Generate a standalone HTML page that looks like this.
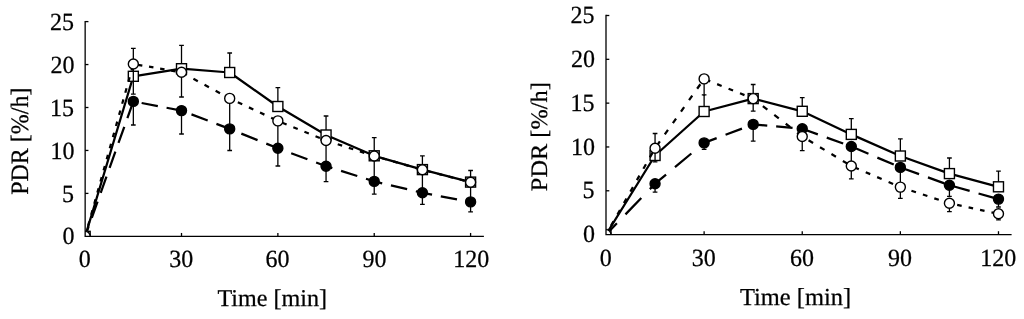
<!DOCTYPE html>
<html><head><meta charset="utf-8"><title>PDR</title>
<style>
html,body{margin:0;padding:0;background:#fff;}
body{width:1024px;height:319px;overflow:hidden;}
svg{display:block;}
</style></head><body>
<svg width="1024" height="319" viewBox="0 0 1024 319">
<rect width="1024" height="319" fill="#fff"/>
<clipPath id="clip1"><rect x="85.15" y="0" width="1024" height="236.35"/></clipPath>
<g stroke="#000" stroke-width="1.3" fill="none">
<path d="M133.33 76.30 V48.30 M130.98 48.30 h4.7"/>
<path d="M181.51 68.70 V45.30 M179.16 45.30 h4.7"/>
<path d="M229.69 72.50 V53.00 M227.34 53.00 h4.7"/>
<path d="M277.87 106.50 V87.70 M275.52 87.70 h4.7"/>
<path d="M326.05 135.00 V116.00 M323.70 116.00 h4.7"/>
<path d="M374.23 155.80 V137.60 M371.88 137.60 h4.7"/>
<path d="M422.41 169.60 V155.80 M420.06 155.80 h4.7"/>
<path d="M470.59 182.10 V170.50 M468.24 170.50 h4.7"/>
</g>
<path d="M85.15 236.35 L133.33 76.30 L181.51 68.70 L229.69 72.50 L277.87 106.50 L326.05 135.00 L374.23 155.80 L422.41 169.60 L470.59 182.10" stroke-width="2.25" fill="none" stroke="#000" stroke-linejoin="round" clip-path="url(#clip1)"/>
<g stroke="#000" stroke-width="1.4" fill="#fff">
<rect x="80.15" y="231.35" width="10.0" height="10.0" clip-path="url(#clip1)"/>
<rect x="128.33" y="71.30" width="10.0" height="10.0"/>
<rect x="176.51" y="63.70" width="10.0" height="10.0"/>
<rect x="224.69" y="67.50" width="10.0" height="10.0"/>
<rect x="272.87" y="101.50" width="10.0" height="10.0"/>
<rect x="321.05" y="130.00" width="10.0" height="10.0"/>
<rect x="369.23" y="150.80" width="10.0" height="10.0"/>
<rect x="417.41" y="164.60" width="10.0" height="10.0"/>
<rect x="465.59" y="177.10" width="10.0" height="10.0"/>
</g>
<g stroke="#000" stroke-width="1.3" fill="none">
<path d="M133.33 101.40 V125.00 M130.98 125.00 h4.7"/>
<path d="M181.51 110.60 V134.00 M179.16 134.00 h4.7"/>
<path d="M229.69 128.90 V150.50 M227.34 150.50 h4.7"/>
<path d="M277.87 148.30 V166.00 M275.52 166.00 h4.7"/>
<path d="M326.05 166.20 V181.60 M323.70 181.60 h4.7"/>
<path d="M374.23 181.40 V194.10 M371.88 194.10 h4.7"/>
<path d="M422.41 192.80 V204.40 M420.06 204.40 h4.7"/>
<path d="M470.59 201.90 V211.80 M468.24 211.80 h4.7"/>
</g>
<path d="M85.15 236.35L88.67 226.48 M91.79 217.75L97.57 201.55 M100.69 192.82L106.47 176.62 M109.59 167.89L115.38 151.69 M118.49 142.96L124.28 126.76 M127.39 118.03L133.18 101.83 M141.63 102.98L157.83 106.08 M166.56 107.75L181.51 110.60 M181.51 110.60L182.76 111.07 M191.49 114.39L207.69 120.54 M216.42 123.86L229.69 128.90 M229.69 128.90L232.62 130.08 M241.35 133.59L257.55 140.12 M266.28 143.63L277.87 148.30 M277.87 148.30L282.48 150.01 M291.21 153.26L307.41 159.27 M316.14 162.52L326.05 166.20 M326.05 166.20L332.34 168.18 M341.07 170.94L357.27 176.05 M366.00 178.80L374.23 181.40 M374.23 181.40L382.20 183.29 M390.93 185.35L407.13 189.18 M415.86 191.25L422.41 192.80 M422.41 192.80L432.06 194.62 M440.79 196.27L456.99 199.33 M465.72 200.98L470.59 201.90" stroke-width="2.25" fill="none" stroke="#000" stroke-linecap="butt" clip-path="url(#clip1)"/>
<g stroke="#000" stroke-width="1.4" fill="#000">
<circle cx="133.33" cy="101.40" r="5.0"/>
<circle cx="181.51" cy="110.60" r="5.0"/>
<circle cx="229.69" cy="128.90" r="5.0"/>
<circle cx="277.87" cy="148.30" r="5.0"/>
<circle cx="326.05" cy="166.20" r="5.0"/>
<circle cx="374.23" cy="181.40" r="5.0"/>
<circle cx="422.41" cy="192.80" r="5.0"/>
<circle cx="470.59" cy="201.90" r="5.0"/>
</g>
<g stroke="#000" stroke-width="1.3" fill="none">
<path d="M133.33 64.00 V94.20 M130.98 94.20 h4.7"/>
<path d="M181.51 72.30 V97.00 M179.16 97.00 h4.7"/>
<path d="M229.69 98.40 V128.90"/>
<path d="M277.87 120.90 V148.30"/>
<path d="M326.05 140.50 V166.20"/>
<path d="M374.23 156.00 V181.40"/>
<path d="M422.41 169.80 V192.80"/>
<path d="M470.59 182.30 V201.90"/>
</g>
<path d="M85.15 236.35L86.20 232.60 M88.07 225.90L89.30 221.50 M91.17 214.80L92.40 210.40 M94.28 203.70L95.51 199.30 M97.38 192.60L98.61 188.20 M100.48 181.50L101.71 177.10 M103.59 170.40L104.82 166.00 M106.69 159.30L107.92 154.90 M109.79 148.20L111.02 143.80 M112.90 137.10L114.13 132.70 M116.00 126.00L117.23 121.60 M119.10 114.90L120.33 110.50 M122.20 103.80L123.43 99.40 M125.31 92.70L126.54 88.30 M128.41 81.60L129.64 77.20 M131.51 70.50L132.74 66.10 M137.93 64.79L142.33 65.55 M149.03 66.70L153.43 67.46 M160.13 68.62L164.53 69.37 M171.23 70.53L175.63 71.29 M182.33 72.74L186.73 75.13 M193.43 78.76L197.83 81.14 M204.53 84.77L208.93 87.15 M215.63 90.78L220.03 93.17 M226.73 96.80L229.69 98.40 M229.69 98.40L231.13 99.07 M237.83 102.20L242.23 104.26 M248.93 107.39L253.33 109.44 M260.03 112.57L264.43 114.62 M271.13 117.75L275.53 119.81 M282.23 122.67L286.63 124.46 M293.33 127.19L297.73 128.98 M304.43 131.70L308.83 133.49 M315.53 136.22L319.93 138.01 M326.63 140.69L331.03 142.10 M337.73 144.26L342.13 145.67 M348.83 147.83L353.23 149.24 M359.93 151.40L364.33 152.82 M371.03 154.97L374.23 156.00 M374.23 156.00L375.43 156.34 M382.13 158.26L386.53 159.52 M393.23 161.44L397.63 162.70 M404.33 164.62L408.73 165.88 M415.43 167.80L419.83 169.06 M426.53 170.87L430.93 172.01 M437.63 173.75L442.03 174.89 M448.73 176.63L453.13 177.77 M459.83 179.51L464.23 180.65" stroke-width="2.25" fill="none" stroke="#000" stroke-linecap="butt" clip-path="url(#clip1)"/>
<g stroke="#000" stroke-width="1.4" fill="#fff">
<circle cx="85.15" cy="236.35" r="5.0" clip-path="url(#clip1)"/>
<circle cx="133.33" cy="64.00" r="5.0"/>
<circle cx="181.51" cy="72.30" r="5.0"/>
<circle cx="229.69" cy="98.40" r="5.0"/>
<circle cx="277.87" cy="120.90" r="5.0"/>
<circle cx="326.05" cy="140.50" r="5.0"/>
<circle cx="374.23" cy="156.00" r="5.0"/>
<circle cx="422.41" cy="169.80" r="5.0"/>
<circle cx="470.59" cy="182.30" r="5.0"/>
</g>
<g stroke="#000" stroke-width="1.3" fill="none" stroke-linecap="butt">
<path d="M85.15 20.950000000000003 V236.35 H483.9"/>
<path d="M85.15 193.40 h3.3"/>
<path d="M85.15 150.45 h3.3"/>
<path d="M85.15 107.50 h3.3"/>
<path d="M85.15 64.55 h3.3"/>
<path d="M85.15 21.60 h3.3"/>
<path d="M181.51 236.35 v-3.4"/>
<path d="M277.87 236.35 v-3.4"/>
<path d="M374.23 236.35 v-3.4"/>
<path d="M470.59 236.35 v-3.4"/>
</g>
<g font-family="'Liberation Serif', serif" font-size="24px" fill="#000" stroke="#000" stroke-width="0.25" text-rendering="geometricPrecision">
<text transform="translate(74.40 244.45) scale(1 1.03)" text-anchor="end">0</text>
<text transform="translate(74.00 201.50) scale(1 1.03)" text-anchor="end">5</text>
<text transform="translate(74.40 158.55) scale(1 1.03)" text-anchor="end">10</text>
<text transform="translate(74.00 115.60) scale(1 1.03)" text-anchor="end">15</text>
<text transform="translate(74.40 72.65) scale(1 1.03)" text-anchor="end">20</text>
<text transform="translate(74.00 29.70) scale(1 1.03)" text-anchor="end">25</text>
<text transform="translate(84.85 266.80) scale(1 1.03)" text-anchor="middle">0</text>
<text transform="translate(181.21 266.80) scale(1 1.03)" text-anchor="middle">30</text>
<text transform="translate(277.57 266.80) scale(1 1.03)" text-anchor="middle">60</text>
<text transform="translate(374.53 266.80) scale(1 1.03)" text-anchor="middle">90</text>
<text transform="translate(471.29 266.80) scale(1 1.03)" text-anchor="middle">120</text>
<text transform="translate(272.20 305.85)" text-anchor="middle" font-size="24.1px">Time [min]</text>
<text transform="translate(27.50 141.20) rotate(-90) scale(1 1.04)" text-anchor="middle" font-size="24.0px">PDR [%/h]</text>
</g>
<clipPath id="clip2"><rect x="606.0" y="0" width="1024" height="234.6"/></clipPath>
<g stroke="#000" stroke-width="1.3" fill="none">
<path d="M655.06 155.50 V133.50 M652.71 133.50 h4.7"/>
<path d="M704.12 111.50 V94.90 M701.77 94.90 h4.7"/>
<path d="M753.18 98.60 V84.50 M750.83 84.50 h4.7"/>
<path d="M802.24 111.30 V97.60 M799.89 97.60 h4.7"/>
<path d="M851.30 134.40 V118.70 M848.95 118.70 h4.7"/>
<path d="M900.36 156.00 V138.90 M898.01 138.90 h4.7"/>
<path d="M949.42 173.60 V158.00 M947.07 158.00 h4.7"/>
<path d="M998.48 186.80 V171.20 M996.13 171.20 h4.7"/>
</g>
<path d="M606.00 234.60 L655.06 155.50 L704.12 111.50 L753.18 98.60 L802.24 111.30 L851.30 134.40 L900.36 156.00 L949.42 173.60 L998.48 186.80" stroke-width="2.25" fill="none" stroke="#000" stroke-linejoin="round" clip-path="url(#clip2)"/>
<g stroke="#000" stroke-width="1.4" fill="#fff">
<rect x="601.0" y="229.6" width="10.0" height="10.0" clip-path="url(#clip2)"/>
<rect x="650.06" y="150.50" width="10.0" height="10.0"/>
<rect x="699.12" y="106.50" width="10.0" height="10.0"/>
<rect x="748.18" y="93.60" width="10.0" height="10.0"/>
<rect x="797.24" y="106.30" width="10.0" height="10.0"/>
<rect x="846.30" y="129.40" width="10.0" height="10.0"/>
<rect x="895.36" y="151.00" width="10.0" height="10.0"/>
<rect x="944.42" y="168.60" width="10.0" height="10.0"/>
<rect x="993.48" y="181.80" width="10.0" height="10.0"/>
</g>
<g stroke="#000" stroke-width="1.3" fill="none">
<path d="M655.06 183.70 V192.10 M652.71 192.10 h4.7"/>
<path d="M704.12 142.90 V149.30 M701.77 149.30 h4.7"/>
<path d="M753.18 124.40 V141.20 M750.83 141.20 h4.7"/>
<path d="M802.24 128.70 V136.50"/>
<path d="M851.30 146.50 V166.00"/>
<path d="M900.36 167.40 V187.10"/>
<path d="M949.42 185.20 V196.40 M947.07 196.40 h4.7"/>
<path d="M998.48 199.10 V207.00 M996.13 207.00 h4.7"/>
</g>
<path d="M606.00 234.60L616.89 223.30 M625.47 214.40L641.28 198.00 M649.86 189.10L655.06 183.70 M655.06 183.70L666.06 174.55 M674.96 167.15L691.36 153.51 M700.26 146.11L704.12 142.90 M704.12 142.90L716.66 138.17 M725.56 134.82L741.96 128.63 M750.86 125.27L753.18 124.40 M753.18 124.40L767.26 125.63 M776.16 126.41L792.56 127.85 M801.46 128.63L802.24 128.70 M802.24 128.70L817.86 134.37 M826.76 137.60L843.16 143.55 M852.06 146.82L868.46 153.81 M877.36 157.60L893.76 164.59 M902.66 168.23L919.06 174.18 M927.96 177.41L944.36 183.36 M953.26 186.29L969.66 190.93 M978.56 193.46L994.96 198.10" stroke-width="2.25" fill="none" stroke="#000" stroke-linecap="butt" clip-path="url(#clip2)"/>
<g stroke="#000" stroke-width="1.4" fill="#000">
<circle cx="655.06" cy="183.70" r="5.0"/>
<circle cx="704.12" cy="142.90" r="5.0"/>
<circle cx="753.18" cy="124.40" r="5.0"/>
<circle cx="802.24" cy="128.70" r="5.0"/>
<circle cx="851.30" cy="146.50" r="5.0"/>
<circle cx="900.36" cy="167.40" r="5.0"/>
<circle cx="949.42" cy="185.20" r="5.0"/>
<circle cx="998.48" cy="199.10" r="5.0"/>
</g>
<g stroke="#000" stroke-width="1.3" fill="none">
<path d="M655.06 148.20 V161.80 M652.71 161.80 h4.7"/>
<path d="M704.12 78.90 V96.00"/>
<path d="M753.18 98.60 V111.20 M750.83 111.20 h4.7"/>
<path d="M802.24 136.50 V150.60 M799.89 150.60 h4.7"/>
<path d="M851.30 166.00 V178.90 M848.95 178.90 h4.7"/>
<path d="M900.36 187.10 V198.40 M898.01 198.40 h4.7"/>
<path d="M949.42 203.30 V211.60 M947.07 211.60 h4.7"/>
<path d="M998.48 213.80 V219.90 M996.13 219.90 h4.7"/>
</g>
<path d="M606.00 234.60L607.01 232.83 M610.94 225.90L613.50 221.40 M617.43 214.47L619.99 209.97 M623.92 203.04L626.48 198.54 M630.41 191.61L632.97 187.11 M636.90 180.18L639.46 175.68 M643.39 168.75L645.95 164.25 M649.88 157.32L652.44 152.82 M656.70 145.89L659.88 141.39 M664.79 134.46L667.97 129.96 M672.88 123.03L676.06 118.53 M680.97 111.60L684.16 107.10 M689.06 100.17L692.25 95.67 M697.15 88.74L700.34 84.24 M705.71 79.54L710.21 81.35 M717.14 84.13L721.64 85.94 M728.57 88.72L733.07 90.52 M740.00 93.31L744.50 95.11 M751.43 97.90L753.18 98.60 M753.18 98.60L755.93 100.72 M762.86 106.08L767.36 109.55 M774.29 114.91L778.79 118.38 M785.72 123.74L790.22 127.21 M797.15 132.57L801.65 136.04 M808.58 140.31L813.08 143.02 M820.01 147.19L824.51 149.89 M831.44 154.06L835.94 156.76 M842.87 160.93L847.37 163.64 M854.30 167.29L858.80 169.23 M865.73 172.21L870.23 174.14 M877.16 177.12L881.66 179.06 M888.59 182.04L893.09 183.97 M900.02 186.95L900.36 187.10 M900.36 187.10L904.52 188.47 M911.45 190.76L915.95 192.25 M922.88 194.54L927.38 196.02 M934.31 198.31L938.81 199.80 M945.74 202.08L949.42 203.30 M949.42 203.30L950.24 203.48 M957.17 204.96L961.67 205.92 M968.60 207.40L973.10 208.37 M980.03 209.85L984.53 210.81 M991.46 212.30L995.96 213.26" stroke-width="2.25" fill="none" stroke="#000" stroke-linecap="butt" clip-path="url(#clip2)"/>
<g stroke="#000" stroke-width="1.4" fill="#fff">
<circle cx="606.0" cy="234.6" r="5.0" clip-path="url(#clip2)"/>
<circle cx="655.06" cy="148.20" r="5.0"/>
<circle cx="704.12" cy="78.90" r="5.0"/>
<circle cx="753.18" cy="98.60" r="5.0"/>
<circle cx="802.24" cy="136.50" r="5.0"/>
<circle cx="851.30" cy="166.00" r="5.0"/>
<circle cx="900.36" cy="187.10" r="5.0"/>
<circle cx="949.42" cy="203.30" r="5.0"/>
<circle cx="998.48" cy="213.80" r="5.0"/>
</g>
<g stroke="#000" stroke-width="1.3" fill="none" stroke-linecap="butt">
<path d="M606.0 14.85 V234.6 H1011.6"/>
<path d="M606.0 190.78 h3.3"/>
<path d="M606.0 146.96 h3.3"/>
<path d="M606.0 103.14 h3.3"/>
<path d="M606.0 59.32 h3.3"/>
<path d="M606.0 15.50 h3.3"/>
<path d="M704.12 234.6 v-3.4"/>
<path d="M802.24 234.6 v-3.4"/>
<path d="M900.36 234.6 v-3.4"/>
<path d="M998.48 234.6 v-3.4"/>
</g>
<g font-family="'Liberation Serif', serif" font-size="24px" fill="#000" stroke="#000" stroke-width="0.25" text-rendering="geometricPrecision">
<text transform="translate(595.00 242.30) scale(1 1.03)" text-anchor="end">0</text>
<text transform="translate(594.60 198.48) scale(1 1.03)" text-anchor="end">5</text>
<text transform="translate(595.00 154.66) scale(1 1.03)" text-anchor="end">10</text>
<text transform="translate(594.60 110.84) scale(1 1.03)" text-anchor="end">15</text>
<text transform="translate(595.00 67.02) scale(1 1.03)" text-anchor="end">20</text>
<text transform="translate(594.60 23.20) scale(1 1.03)" text-anchor="end">25</text>
<text transform="translate(605.70 265.70) scale(1 1.03)" text-anchor="middle">0</text>
<text transform="translate(703.82 265.70) scale(1 1.03)" text-anchor="middle">30</text>
<text transform="translate(801.94 265.70) scale(1 1.03)" text-anchor="middle">60</text>
<text transform="translate(900.06 265.70) scale(1 1.03)" text-anchor="middle">90</text>
<text transform="translate(998.18 265.70) scale(1 1.03)" text-anchor="middle">120</text>
<text transform="translate(795.50 305.20)" text-anchor="middle" font-size="24.45px">Time [min]</text>
<text transform="translate(546.60 136.70) rotate(-90) scale(1 0.97)" text-anchor="middle" font-size="24.35px">PDR [%/h]</text>
</g>
</svg>
</body></html>
